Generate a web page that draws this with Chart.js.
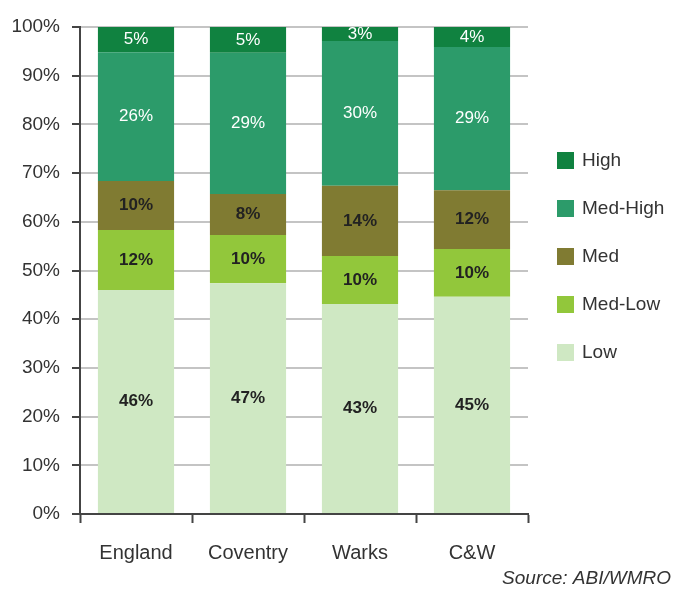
<!DOCTYPE html>
<html>
<head>
<meta charset="utf-8">
<script src="https://cdn.jsdelivr.net/npm/chart.js@4/dist/chart.umd.min.js"></script>
<style>
  html, body { margin: 0; padding: 0; background: #fff; }
  #wrap { position: relative; width: 673px; height: 594px; }
</style>
</head>
<body>
<div id="wrap"><canvas id="chart" width="673" height="594"></canvas></div>
<script>
  // Data (percent of each area)
  const areas = ["England", "Coventry", "Warks", "C&W"];
  const lowShare = [46.0, 47.4, 43.1, 44.6];
  const medLowShare = [12.3, 9.9, 9.9, 9.8];
  const medShare = [10.1, 8.4, 14.4, 12.1];
  const medHighShare = [26.4, 29.0, 29.7, 29.4];
  const highShare = [5.2, 5.3, 2.9, 4.1];
  const yTicks = [0, 10, 20, 30, 40, 50, 60, 70, 80, 90, 100];

  const FONT = "'Liberation Sans', Arial, sans-serif";

  // Value labels in the middle of each segment
  const segmentLabels = {
    id: "segmentLabels",
    afterDatasetsDraw(chart) {
      const { ctx } = chart;
      ctx.save();
      ctx.textAlign = "center";
      ctx.textBaseline = "middle";
      chart.data.datasets.forEach((ds, i) => {
        const meta = chart.getDatasetMeta(i);
        meta.data.forEach((bar, j) => {
          const v = ds.data[j];
          const y = (bar.y + bar.base) / 2;
          ctx.fillStyle = ds.labelColor;
          ctx.font = ds.labelFont;
          ctx.fillText(Math.round(v) + "%", bar.x, y);
        });
      });
      ctx.restore();
    },
  };

  // Legend on the right, top series first
  const sideLegend = {
    id: "sideLegend",
    afterDraw(chart) {
      const { ctx } = chart;
      const list = chart.data.datasets.slice().reverse();
      ctx.save();
      ctx.textBaseline = "middle";
      ctx.textAlign = "left";
      ctx.font = "19px " + FONT;
      list.forEach((ds, k) => {
        const cy = 160 + k * 48;
        ctx.fillStyle = ds.backgroundColor;
        ctx.fillRect(557, cy - 8, 17, 17);
        ctx.fillStyle = "#333";
        ctx.fillText(ds.label, 582, cy + 1);
      });
      ctx.font = "italic 19px " + FONT;
      ctx.textAlign = "right";
      ctx.fillStyle = "#333";
      ctx.fillText("Source: ABI/WMRO", 671, 579);
      ctx.restore();
    },
  };

  function series(label, data, color, labelColor, labelFont) {
    return {
      label,
      data,
      backgroundColor: color,
      borderWidth: 0,
      categoryPercentage: 1,
      barPercentage: 0.68,
      labelColor,
      labelFont,
    };
  }

  const darkFont = "bold 17px " + FONT;
  const lightFont = "17px " + FONT;

  new Chart(document.getElementById("chart"), {
    type: "bar",
    data: {
      labels: areas,
      datasets: [
        series("Low", lowShare, "rgb(207,232,195)", "#222", darkFont),
        series("Med-Low", medLowShare, "rgb(146,199,59)", "#222", darkFont),
        series("Med", medShare, "rgb(128,123,50)", "#222", darkFont),
        series("Med-High", medHighShare, "rgb(44,155,106)", "#fff", lightFont),
        series("High", highShare, "rgb(16,130,64)", "#fff", lightFont),
      ],
    },
    plugins: [segmentLabels, sideLegend],
    options: {
      responsive: false,
      animation: false,
      devicePixelRatio: 1,
      layout: { padding: { top: 27, right: 145, bottom: 0, left: 0 } },
      plugins: {
        legend: { display: false },
        tooltip: { enabled: false },
      },
      scales: {
        x: {
          stacked: true,
          offset: true,
          grid: {
            offset: true,
            drawOnChartArea: false,
            drawTicks: true,
            tickLength: 9,
            tickWidth: 2,
            tickColor: "#444",
          },
          border: { color: "#444", width: 2 },
          ticks: {
            color: "#333",
            padding: 18,
            font: { family: FONT, size: 20 },
          },
          afterFit(scale) {
            scale.height = 80;
          },
        },
        y: {
          stacked: true,
          min: 0,
          max: 100,
          afterBuildTicks(scale) {
            scale.ticks = yTicks.map((v) => ({ value: v }));
          },
          grid: {
            color: "#c4c4c4",
            lineWidth: 2,
            tickLength: 8,
            tickWidth: 2,
            tickColor: "#444",
          },
          border: { color: "#444", width: 2 },
          ticks: {
            color: "#333",
            padding: 12,
            font: { family: FONT, size: 19 },
            callback: (v) => v + "%",
          },
          afterFit(scale) {
            scale.width = 80;
          },
        },
      },
    },
  });
</script>
</body>
</html>
